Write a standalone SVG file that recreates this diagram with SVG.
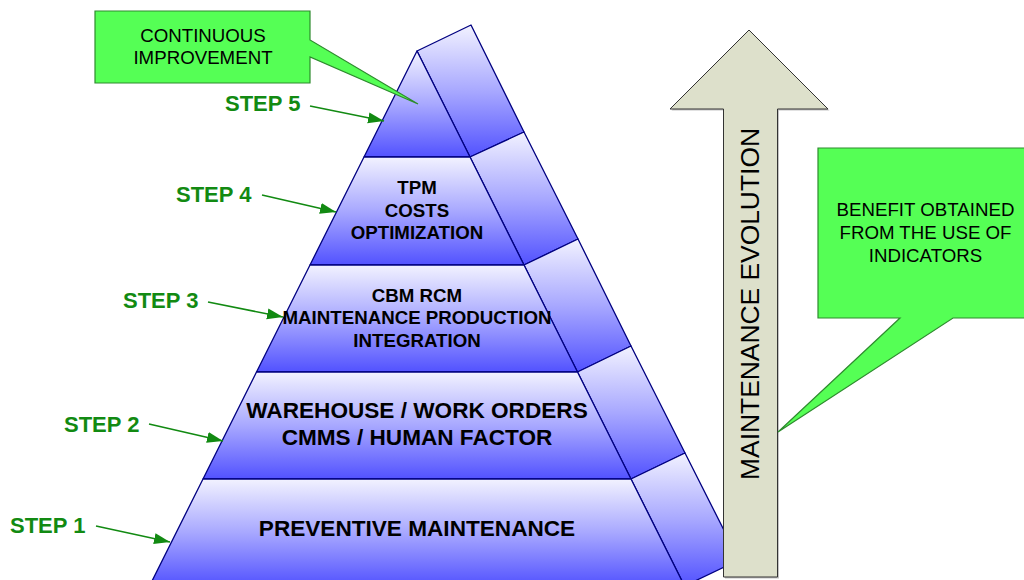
<svg xmlns="http://www.w3.org/2000/svg" width="1024" height="580" viewBox="0 0 1024 580">
<defs>
<linearGradient id="blue" x1="0" y1="0" x2="0" y2="1">
<stop offset="0" stop-color="#f2f2ff"/>
<stop offset="0.5" stop-color="#a8a8ff"/>
<stop offset="1" stop-color="#5252ff"/>
</linearGradient>
<marker id="ah" markerUnits="userSpaceOnUse" markerWidth="17" markerHeight="12" refX="16" refY="6" orient="auto">
<path d="M0,0.5 L16,6 L0,11.5 z" fill="#128a12"/>
</marker>
<style>
.seg{fill:url(#blue);stroke:#000080;stroke-width:1.3;stroke-linejoin:round}
.pt{font-family:"Liberation Sans",Arial,sans-serif;font-weight:bold;fill:#000;text-anchor:middle}
.step{font-family:"Liberation Sans",Arial,sans-serif;font-weight:bold;font-size:22px;fill:#128a12}
.sl{stroke:#128a12;stroke-width:1.6;fill:none;marker-end:url(#ah)}
.call{fill:#55ff55;stroke:#2e8b2e;stroke-width:1.2}
.ct{font-family:"Liberation Sans",Arial,sans-serif;font-size:18.7px;fill:#000;text-anchor:middle}
</style>
</defs>

<g id="pyramid-side">
<polygon class="seg" points="417,51 471,25 524,132 470,157"/>
<polygon class="seg" points="470,157 524,132 578,239 524,265"/>
<polygon class="seg" points="524,265 578,239 631,346 577.5,372"/>
<polygon class="seg" points="577.5,372 631,346 685,453 631,479"/>
<polygon class="seg" points="631,479 685,453 739,560 684.5,586"/>
</g>

<g id="step5">
<polygon class="seg" points="417,51 470,157 364,157"/>
</g>
<g id="step4">
<polygon class="seg" points="364,157 470,157 524,265 310,265"/>
<text class="pt" font-size="18.7" x="417" y="194">TPM</text>
<text class="pt" font-size="18.7" x="417" y="217">COSTS</text>
<text class="pt" font-size="18.7" x="417" y="239">OPTIMIZATION</text>
</g>
<g id="step3">
<polygon class="seg" points="310,265 524,265 577.5,372 256.5,372"/>
<text class="pt" font-size="18.7" x="417" y="302">CBM RCM</text>
<text class="pt" font-size="18.7" x="417" y="324">MAINTENANCE PRODUCTION</text>
<text class="pt" font-size="18.7" x="417" y="347">INTEGRATION</text>
</g>
<g id="step2">
<polygon class="seg" points="256.5,372 577.5,372 631,479 203,479"/>
<text class="pt" font-size="22.6" x="417" y="418">WAREHOUSE / WORK ORDERS</text>
<text class="pt" font-size="22.6" x="417" y="445">CMMS / HUMAN FACTOR</text>
</g>
<g id="step1">
<polygon class="seg" points="203,479 631,479 684.5,586 149.5,586"/>
<text class="pt" font-size="22.6" x="417" y="536">PREVENTIVE MAINTENANCE</text>
</g>

<g id="step-labels">
<text class="step" x="225" y="111">STEP 5</text>
<text class="step" x="176" y="202">STEP 4</text>
<text class="step" x="123" y="308">STEP 3</text>
<text class="step" x="64" y="432">STEP 2</text>
<text class="step" x="10" y="533">STEP 1</text>
</g>

<g id="connectors">
<line class="sl" x1="310" y1="106" x2="384" y2="121"/>
<line class="sl" x1="262" y1="195" x2="336" y2="212"/>
<line class="sl" x1="208" y1="302" x2="283" y2="317"/>
<line class="sl" x1="149" y1="424" x2="223" y2="441"/>
<line class="sl" x1="96" y1="526" x2="170" y2="542"/>
</g>

<g id="continuous-improvement">
<polygon class="call" points="95,11 310,11 310,40 418,104 310,57 310,83 95,83"/>
<text class="ct" x="203" y="42">CONTINUOUS</text>
<text class="ct" x="203" y="64">IMPROVEMENT</text>
</g>

<g id="maintenance-evolution">
<polygon points="750.5,31.5 829.5,110.5 779,110.5 779,578.5 725,578.5 725,110.5 671.5,110.5" fill="#c4c4c4"/>
<polygon points="749,30 828,109 777.5,109 777.5,577 723.5,577 723.5,109 670,109" fill="#dde0cb" stroke="#333" stroke-width="1"/>
<text transform="translate(759,304) rotate(-90)" font-family="Liberation Sans,Arial,sans-serif" font-size="26.4" fill="#000" text-anchor="middle">MAINTENANCE EVOLUTION</text>
</g>

<g id="benefit">
<polygon class="call" points="818,148 1034,148 1034,318 953,318 778,432 900,318 818,318"/>
<text class="ct" x="925.5" y="216">BENEFIT OBTAINED</text>
<text class="ct" x="925.5" y="239">FROM THE USE OF</text>
<text class="ct" x="925.5" y="262">INDICATORS</text>
</g>
</svg>
